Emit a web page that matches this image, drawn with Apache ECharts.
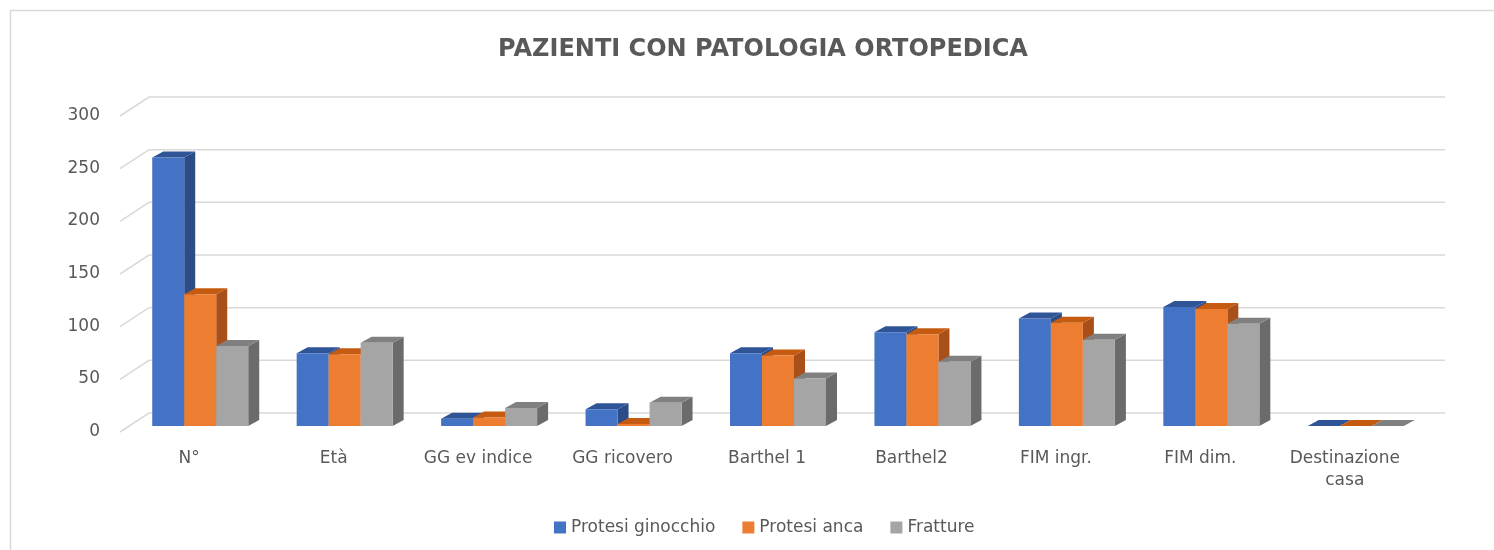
<!DOCTYPE html>
<html>
<head>
<meta charset="utf-8">
<script src="https://cdn.jsdelivr.net/npm/echarts@6/dist/echarts.min.js"></script>
<style>
  html, body { margin: 0; padding: 0; background: #fff; }
  #chart { width: 1494px; height: 550px; }
</style>
</head>
<body>
<div id="chart"></div>
<script>
// dati
const categories = ['N°', 'Età', 'GG ev indice', 'GG ricovero', 'Barthel 1', 'Barthel2', 'FIM ingr.', 'FIM dim.', 'Destinazione casa'];
const protesiGinocchio = [255, 69, 7, 16, 69, 89, 102, 113, 0];
const protesiAnca = [125, 68, 8, 2, 67, 87, 98, 111, 0];
const fratture = [76, 79, 17, 22, 45, 61, 82, 97, 0];
const yTicks = [0, 50, 100, 150, 200, 250, 300];

const seriesNames = ['Protesi ginocchio', 'Protesi anca', 'Fratture'];
const seriesData = [protesiGinocchio, protesiAnca, fratture];
// front, top, side
const palette = [
    ['#4472C4', '#2F5597', '#2B4C87'],
    ['#ED7D31', '#C55A11', '#A9501A'],
    ['#A5A5A5', '#808080', '#6B6B6B']
];

const BAR_W = 32;     // larghezza faccia frontale
const DEPTH = [11, -6];   // profondità della barra
const WALL = [21, -13];   // parete di fondo
const FLOOR = [-8, 6];    // bordo anteriore del pavimento
const FONT = 'DejaVu Sans';

const chart = echarts.init(document.getElementById('chart'));

function barRender(si) {
    return function(params, api) {
        const cat = api.value(0);
        const top = api.coord([cat, api.value(1)]);
        const base = api.coord([cat, 0]);
        const x0 = top[0] - BAR_W * 1.5 + si * BAR_W;
        const x1 = x0 + BAR_W;
        const yt = top[1], yb = base[1];
        const c = palette[si];
        return {
            type: 'group',
            children: [
                {
                    type: 'polygon',
                    shape: { points: [[x1, yb], [x1 + DEPTH[0], yb + DEPTH[1]], [x1 + DEPTH[0], yt + DEPTH[1]], [x1, yt]] },
                    style: { fill: c[2] }
                },
                {
                    type: 'polygon',
                    shape: { points: [[x0, yt], [x1, yt], [x1 + DEPTH[0], yt + DEPTH[1]], [x0 + DEPTH[0], yt + DEPTH[1]]] },
                    style: { fill: c[1] }
                },
                {
                    type: 'rect',
                    shape: { x: x0, y: yt, width: BAR_W, height: yb - yt },
                    style: { fill: c[0] }
                }
            ]
        };
    };
}

const barSeries = seriesNames.map(function(name, si) {
    return {
        name: name,
        type: 'custom',
        renderItem: barRender(si),
        itemStyle: { color: palette[si][0] },
        encode: { x: 0, y: 1 },
        data: seriesData[si].map(function(v, i) { return [i, v]; }),
        z: 3 + si
    };
});

// griglia sulla parete di fondo con il raccordo obliquo
const gridSeries = {
    type: 'custom',
    silent: true,
    renderItem: function(params, api) {
        const cs = params.coordSys;
        const y = api.coord([0, api.value(1)])[1];
        return {
            type: 'polyline',
            shape: {
                points: [
                    [cs.x + FLOOR[0], y + FLOOR[1]],
                    [cs.x + WALL[0], y + WALL[1]],
                    [cs.x + cs.width + 17, y + WALL[1]]
                ]
            },
            style: { stroke: '#D9D9D9', lineWidth: 1.5, fill: null }
        };
    },
    encode: { x: 0, y: 1 },
    data: yTicks.map(function(t) { return [0, t]; }),
    z: 1
};

chart.setOption({
    backgroundColor: '#fff',
    textStyle: { fontFamily: FONT },
    title: {
        text: 'PAZIENTI CON PATOLOGIA ORTOPEDICA',
        left: 758,
        top: 33,
        textAlign: 'center',
        textStyle: { fontFamily: FONT, fontWeight: 'bold', fontSize: 24, color: '#595959' }
    },
    legend: {
        left: 549,
        top: 514,
        icon: 'rect',
        itemWidth: 12,
        itemHeight: 12,
        itemGap: 27,
        textStyle: { fontFamily: FONT, fontSize: 17, color: '#595959', padding: [0, 0, 0, 0] },
        data: seriesNames
    },
    graphic: [{
        type: 'polyline',
        shape: { points: [[10.5, 600], [10.5, 10.5], [1520, 10.5]] },
        style: { fill: null, stroke: '#D9D9D9', lineWidth: 1.5 },
        silent: true
    }],
    grid: { left: 128, top: 110, width: 1300, height: 316 },
    xAxis: {
        type: 'category',
        data: categories,
        axisLine: { show: false },
        axisTick: { show: false },
        axisLabel: {
            interval: 0,
            margin: 22,
            fontFamily: FONT,
            fontSize: 17,
            lineHeight: 22,
            color: '#595959',
            padding: [0, 22, 0, 0],
            formatter: function(v) { return v.length > 14 ? v.replace(' ', '\n') : v; }
        }
    },
    yAxis: {
        type: 'value',
        min: 0,
        max: 300,
        interval: 50,
        axisLine: { show: false },
        axisTick: { show: false },
        splitLine: { show: false },
        axisLabel: {
            fontFamily: FONT,
            fontSize: 17,
            color: '#595959',
            margin: 28,
            verticalAlign: 'top',
            lineHeight: 11
        }
    },
    series: [gridSeries].concat(barSeries)
});
</script>
</body>
</html>
